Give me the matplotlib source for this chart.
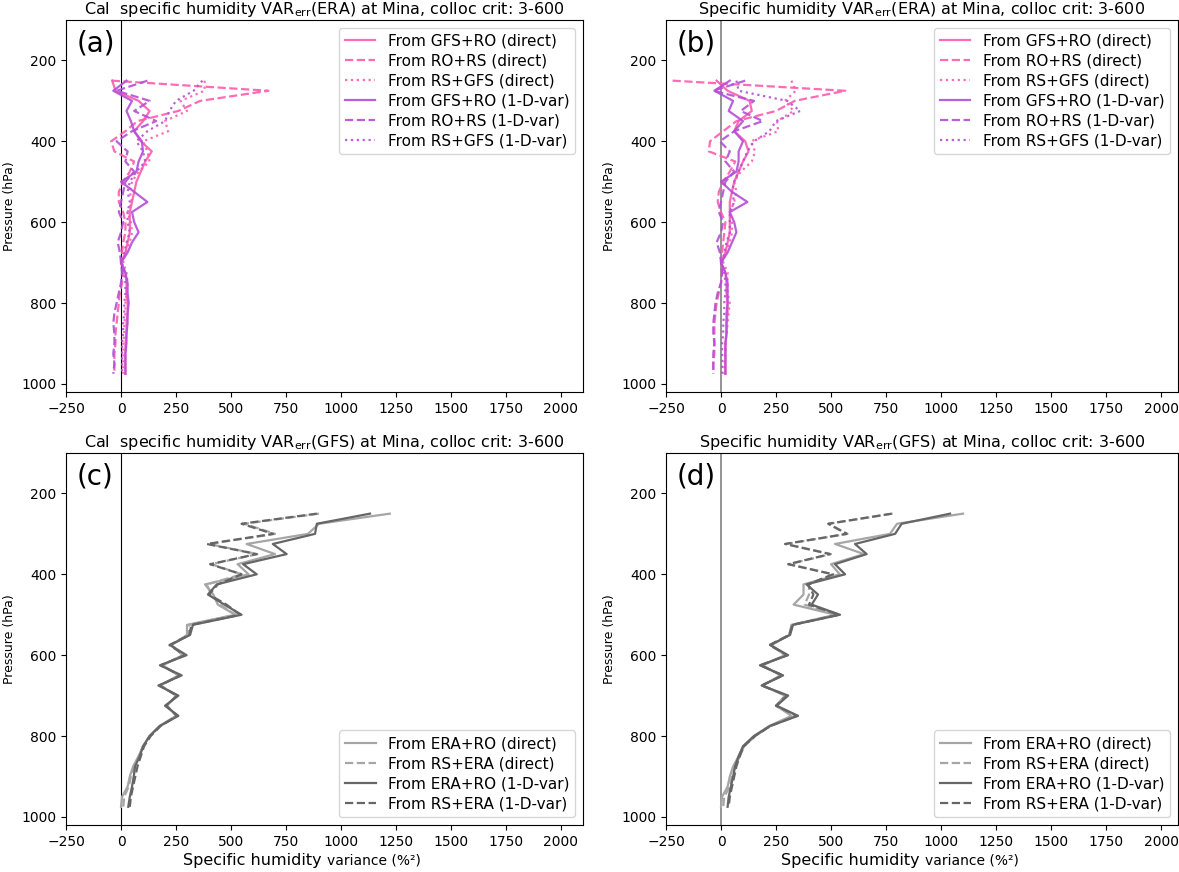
import numpy as np
import matplotlib
matplotlib.use("Agg")
import matplotlib.pyplot as plt

# niveaux de pression (hPa)
pres = [250, 275, 300, 325, 350, 375, 400, 425, 450, 475, 500, 525, 550, 575, 600,
        625, 650, 675, 700, 725, 750, 775, 800, 825, 850, 875, 900, 925, 950, 975]

# (a) Cal VARerr(ERA)
a_gfsro_dir = [-40, -25, 80, 130, 100, 60, 90, 140, 110, 90, 70, 60, 50, 40, 40,
               40, 30, 20, 0, 20, 25, 25, 30, 30, 25, 25, 20, 20, 20, 20]
a_rors_dir = [-42, 670, 360, 260, 75, 20, -45, -30, 60, 40, 10, -10, -10, 10, 20,
              20, 10, 5, 0, 10, 5, -5, -10, -15, -20, -25, -25, -30, -30, -30]
a_rsgfs_dir = [380, 380, 270, 300, 200, 215, 100, 120, 130, 80, 50, 40, 50, 30, 45,
               50, 40, 20, 10, 25, 30, 25, 20, 20, 15, 15, 10, 10, 10, 10]
a_gfsro_1d = [25, -35, 50, 25, 45, 60, 95, 100, 80, 70, 0, 60, 120, 50, 60,
              80, 50, 30, 0, 20, 30, 30, 35, 30, 30, 25, 25, 20, 20, 20]
a_rors_1d = [120, -20, 130, 60, 160, 50, -20, 30, 20, 60, 20, 10, 0, -10, 10,
             0, -15, -5, 0, 5, 0, -10, -20, -30, -35, -30, -30, -35, -30, -35]
a_rsgfs_1d = [370, 330, 250, 220, 200, 120, 70, 100, 110, 70, 40, 30, 40, 30, 30,
              40, 25, 15, 5, 15, 20, 20, 15, 15, 10, 10, 5, 5, 5, 5]

# (b) VARerr(ERA)
b_gfsro_dir = [-20, 30, 130, 140, 80, 60, 110, 125, 100, 80, 60, 50, 40, 40, 40,
               40, 30, 20, 0, 20, 25, 25, 30, 30, 25, 25, 20, 20, 20, 20]
b_rors_dir = [-220, 565, 335, 250, 70, 10, -50, -55, 65, 40, 10, -10, -15, 0, 20,
              15, 10, 5, 0, 5, 0, -10, -20, -25, -30, -30, -30, -30, -35, -35]
b_rsgfs_dir = [320, 340, 290, 330, 255, 260, 135, 155, 140, 90, 60, 70, 60, 40, 50,
               50, 40, 20, 10, 30, 30, 30, 40, 35, 30, 25, 20, 20, 15, 15]
b_gfsro_1d = [40, -30, 55, 35, 100, 60, 100, 80, 80, 70, 0, 50, 120, 40, 60,
              70, 50, 30, 0, 20, 30, 30, 30, 25, 25, 25, 20, 20, 20, 20]
b_rors_1d = [110, -35, 150, 90, 190, 60, -5, 40, 20, 60, 20, 10, 0, -10, 10,
             0, -20, -5, 0, 5, 0, -15, -25, -30, -35, -35, -30, -35, -35, -35]
b_rsgfs_1d = [70, 80, 300, 360, 250, 220, 150, 120, 100, 80, 60, 50, 60, 40, 40,
              40, 25, 15, 5, 15, 20, 20, 15, 15, 10, 10, 5, 5, 5, 5]

# (c) Cal VARerr(GFS)
c_erar_dir = [1222, 900, 850, 571, 700, 530, 580, 382, 420, 440, 520, 300, 300, 230, 280,
              190, 260, 180, 250, 210, 250, 175, 130, 100, 80, 55, 40, 30, 5, 0]
c_rsera_dir = [900, 560, 700, 400, 620, 410, 550, 390, 410, 450, 520, 310, 305, 225, 285,
               185, 265, 180, 255, 205, 255, 180, 130, 100, 80, 60, 45, 35, 15, 10]
c_erar_1d = [1132, 890, 882, 690, 753, 555, 617, 435, 395, 470, 548, 327, 314, 223, 298,
             177, 276, 170, 261, 200, 261, 177, 130, 101, 85, 64, 58, 50, 40, 33]
c_rsera_1d = [890, 548, 692, 390, 617, 405, 548, 440, 400, 480, 540, 320, 310, 220, 290,
              180, 270, 175, 255, 205, 255, 180, 135, 105, 90, 75, 65, 55, 45, 40]

# (d) VARerr(GFS)
d_erar_dir = [1100, 800, 768, 518, 650, 500, 540, 375, 375, 330, 520, 320, 310, 230, 290,
              190, 270, 190, 290, 250, 320, 220, 150, 100, 80, 55, 40, 30, 5, 0]
d_rsera_dir = [780, 490, 575, 295, 500, 310, 510, 400, 400, 380, 530, 325, 310, 225, 300,
               180, 280, 185, 300, 250, 340, 225, 155, 105, 85, 65, 50, 40, 15, 10]
d_erar_1d = [1041, 821, 791, 609, 662, 518, 564, 389, 441, 412, 541, 327, 314, 223, 305,
             177, 282, 185, 305, 253, 350, 223, 150, 101, 80, 64, 55, 45, 35, 30]
d_rsera_1d = [776, 487, 571, 291, 495, 305, 509, 395, 420, 400, 535, 325, 310, 220, 300,
              180, 280, 185, 300, 250, 345, 225, 155, 105, 85, 70, 60, 50, 40, 35]

labels_era = ["From GFS+RO (direct)", "From RO+RS (direct)", "From RS+GFS (direct)",
              "From GFS+RO (1-D-var)", "From RO+RS (1-D-var)", "From RS+GFS (1-D-var)"]
labels_gfs = ["From ERA+RO (direct)", "From RS+ERA (direct)",
              "From ERA+RO (1-D-var)", "From RS+ERA (1-D-var)"]

PINK = "#ff5cad"
PURP = "#b44fd8"
LGRAY = "#a6a6a6"
DGRAY = "#666666"

fig = plt.figure(figsize=(11.79, 8.72), dpi=100)
W, H = 1179.0, 872.0


def make_ax(l, r, t, b):
    return fig.add_axes([l/W, 1 - b/H, (r - l)/W, (b - t)/H])


ax_a = make_ax(66, 583, 20, 392)
ax_b = make_ax(666, 1178, 20, 392)
ax_c = make_ax(66, 583, 453, 825)
ax_d = make_ax(666, 1178, 453, 825)


def setup(ax, letter, title, xmax, vcol, vlw):
    ax.axvline(0, color=vcol, lw=vlw, zorder=1)
    ax.set_xlim(-250, xmax)
    ax.set_ylim(1020, 100)
    ax.set_xticks([-250, 0, 250, 500, 750, 1000, 1250, 1500, 1750, 2000])
    ax.set_yticks([200, 400, 600, 800, 1000])
    ax.set_ylabel("Pressure (hPa)", fontsize=9)
    ax.set_title(title, fontsize=11.5, pad=4)
    ax.text(0.02, 0.975, letter, transform=ax.transAxes, fontsize=20,
            ha="left", va="top")


# panneaux ERA
for ax, series, letter, title, xmax, vcol, vlw in [
        (ax_a, [a_gfsro_dir, a_rors_dir, a_rsgfs_dir, a_gfsro_1d, a_rors_1d, a_rsgfs_1d],
         "(a)", r"Cal  specific humidity VAR$_{\rm err}$(ERA) at Mina, colloc crit: 3-600",
         2100, "black", 0.8),
        (ax_b, [b_gfsro_dir, b_rors_dir, b_rsgfs_dir, b_gfsro_1d, b_rors_1d, b_rsgfs_1d],
         "(b)", r"Specific humidity VAR$_{\rm err}$(ERA) at Mina, colloc crit: 3-600",
         2077, "gray", 1.2)]:
    setup(ax, letter, title, xmax, vcol, vlw)
    styles = ["-", "--", ":"]
    for i, vals in enumerate(series):
        col = PINK if i < 3 else PURP
        ax.plot(vals, pres, color=col, ls=styles[i % 3], lw=1.6, alpha=0.9,
                label=labels_era[i])
    ax.legend(loc="upper right", fontsize=11, labelspacing=0.32)

# panneaux GFS
for ax, series, letter, title, xmax, vcol, vlw in [
        (ax_c, [c_erar_dir, c_rsera_dir, c_erar_1d, c_rsera_1d],
         "(c)", r"Cal  specific humidity VAR$_{\rm err}$(GFS) at Mina, colloc crit: 3-600",
         2100, "black", 0.8),
        (ax_d, [d_erar_dir, d_rsera_dir, d_erar_1d, d_rsera_1d],
         "(d)", r"Specific humidity VAR$_{\rm err}$(GFS) at Mina, colloc crit: 3-600",
         2077, "gray", 1.2)]:
    setup(ax, letter, title, xmax, vcol, vlw)
    cols = [LGRAY, LGRAY, DGRAY, DGRAY]
    styles = ["-", "--", "-", "--"]
    for i, vals in enumerate(series):
        ax.plot(vals, pres, color=cols[i], ls=styles[i], lw=1.6,
                label=labels_gfs[i])
    ax.legend(loc="lower right", fontsize=11, labelspacing=0.32)
    # xlabel en deux tailles (meme ligne de base)
    ax.text(0.505, -0.107, "Specific humidity ", transform=ax.transAxes,
            fontsize=11.5, ha="right", va="baseline")
    ax.text(0.505, -0.107, "variance (%²)", transform=ax.transAxes,
            fontsize=10, ha="left", va="baseline")

fig.savefig("out.png", dpi=100)
